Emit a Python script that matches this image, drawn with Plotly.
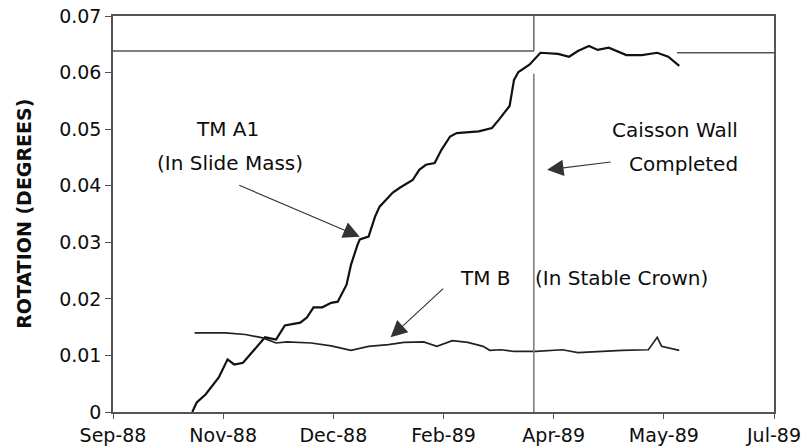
import plotly.graph_objects as go

# ---------------- data ----------------
tm_a1_dates = ["1988-10-26", "1988-10-28", "1988-11-01", "1988-11-07", "1988-11-11", "1988-11-14",
               "1988-11-18", "1988-11-28", "1988-12-03", "1988-12-07", "1988-12-14", "1988-12-17",
               "1988-12-20", "1988-12-24", "1988-12-28", "1988-12-31", "1989-01-04", "1989-01-06",
               "1989-01-09", "1989-01-10", "1989-01-14", "1989-01-17", "1989-01-19", "1989-01-25",
               "1989-01-28", "1989-02-03", "1989-02-06", "1989-02-09", "1989-02-13", "1989-02-16",
               "1989-02-20", "1989-02-23", "1989-03-05", "1989-03-11", "1989-03-14", "1989-03-19",
               "1989-03-21", "1989-03-23", "1989-03-28", "1989-04-02", "1989-04-10", "1989-04-15",
               "1989-04-19", "1989-04-24", "1989-04-28", "1989-05-03", "1989-05-11", "1989-05-18",
               "1989-05-25", "1989-05-30", "1989-06-04"]
tm_a1_rotation = [0.0, 0.0017, 0.0031, 0.0061, 0.0093, 0.0084, 0.0087, 0.0132, 0.0128, 0.0153,
                  0.0158, 0.0167, 0.0185, 0.0185, 0.0193, 0.0195, 0.0225, 0.0260, 0.0296, 0.0305,
                  0.0310, 0.0346, 0.0363, 0.0388, 0.0396, 0.0410, 0.0428, 0.0437, 0.0440, 0.0463,
                  0.0487, 0.0493, 0.0496, 0.0502, 0.0516, 0.0541, 0.0587, 0.0601, 0.0614, 0.0635,
                  0.0633, 0.0628, 0.0638, 0.0647, 0.0640, 0.0644, 0.0631, 0.0631, 0.0635, 0.0628,
                  0.0612]

tm_b_dates = ["1988-10-27", "1988-11-10", "1988-11-19", "1988-11-27", "1988-12-03", "1988-12-08",
              "1988-12-19", "1988-12-28", "1989-01-06", "1989-01-14", "1989-01-23", "1989-01-30",
              "1989-02-08", "1989-02-14", "1989-02-21", "1989-02-28", "1989-03-07", "1989-03-10",
              "1989-03-15", "1989-03-21", "1989-03-31", "1989-04-12", "1989-04-19", "1989-04-28",
              "1989-05-09", "1989-05-21", "1989-05-22", "1989-05-25", "1989-05-27", "1989-06-04"]
tm_b_rotation = [0.0140, 0.0140, 0.0137, 0.0131, 0.0122, 0.0124, 0.0122, 0.0117, 0.0109, 0.0116,
                 0.0119, 0.0123, 0.0124, 0.0116, 0.0126, 0.0123, 0.0116, 0.0109, 0.0110, 0.0107,
                 0.0107, 0.0110, 0.0105, 0.0107, 0.0109, 0.0110, 0.0116, 0.0132, 0.0116, 0.0109]

x_start = "1988-09-20"
x_end = "1989-07-17"
tick_step_days = 50
caisson_date = "1989-03-30"
plateau_level_left = 0.0638
plateau_level_right = 0.0635
plateau_right_start = "1989-06-03"

FONT = "DejaVu Sans"
TXT = "#0d0d0d"

fig = go.Figure()
fig.add_trace(go.Scatter(x=tm_a1_dates, y=tm_a1_rotation, mode="lines",
                         line=dict(color="#111111", width=2.2), showlegend=False))
fig.add_trace(go.Scatter(x=tm_b_dates, y=tm_b_rotation, mode="lines",
                         line=dict(color="#222222", width=1.7), showlegend=False))

# reference lines
line_style = dict(color="#555555", width=1.5)
fig.add_shape(type="line", xref="x", x0=x_start, x1=caisson_date, yref="y",
              y0=plateau_level_left, y1=plateau_level_left, line=line_style)
fig.add_shape(type="line", xref="x", x0=plateau_right_start, x1=x_end, yref="y",
              y0=plateau_level_right, y1=plateau_level_right, line=line_style)
fig.add_shape(type="line", xref="x", x0=caisson_date, x1=caisson_date, yref="y",
              y0=0, y1=0.0598, line=dict(color="#777777", width=1.5))
fig.add_shape(type="line", xref="x", x0=caisson_date, x1=caisson_date, yref="y",
              y0=plateau_level_left, y1=0.07, line=dict(color="#666666", width=1.5))

# text labels
def label(text, x, y):
    fig.add_annotation(x=x, y=y, xref="x", yref="y", text=text, showarrow=False,
                       xanchor="center", yanchor="middle",
                       font=dict(family=FONT, size=20, color=TXT))

label("TM A1", "1988-11-11", 0.0500)
label("(In Slide Mass)", "1988-11-12", 0.0440)
label("Caisson Wall", "1989-06-02", 0.0499)
label("Completed", "1989-06-06", 0.0439)
label("TM B", "1989-03-08", 0.0236)
label("(In Stable Crown)", "1989-05-09", 0.0236)

# arrows
def arrow(x, y, ax, ay):
    fig.add_annotation(x=x, y=y, xref="x", yref="y", ax=ax, ay=ay, text="",
                       showarrow=True, arrowhead=2, arrowsize=3, arrowwidth=1.1,
                       arrowcolor="#333333")

arrow("1989-01-10", 0.0310, -122, -52)
arrow("1989-04-05", 0.0428, 65, -8)
arrow("1989-01-24", 0.0132, 54, -50)

fig.update_layout(
    width=811, height=447,
    margin=dict(l=113, r=37, t=16, b=35, autoexpand=False),
    paper_bgcolor="white", plot_bgcolor="white",
    font=dict(family=FONT, size=19, color=TXT),
    xaxis=dict(type="date", range=[x_start, x_end], tick0=x_start,
               dtick=tick_step_days * 86400000, tickformat="%b-%y", automargin=False,
               showgrid=False, zeroline=False, showline=True, linecolor="#555555",
               linewidth=1.5, mirror=True, ticks="outside", ticklen=5, tickcolor="#555555",
               tickfont=dict(family=FONT, size=19, color=TXT)),
    yaxis=dict(range=[0, 0.07], dtick=0.01, tick0=0, automargin=False,
               showgrid=False, zeroline=False, showline=True, linecolor="#555555",
               linewidth=1.5, mirror=True, ticks="outside", ticklen=6, tickcolor="#555555",
               tickfont=dict(family=FONT, size=19, color=TXT)),
)

fig.add_annotation(xref="paper", yref="paper", x=-0.135, y=0.5, xanchor="center", yanchor="middle",
                   text="<b>ROTATION (DEGREES)</b>", textangle=-90, showarrow=False,
                   font=dict(family=FONT, size=19, color=TXT))

fig.write_html("out.html", config={"displayModeBar": False},
               post_script="document.body.style.margin='0px';document.body.style.overflow='hidden';")
